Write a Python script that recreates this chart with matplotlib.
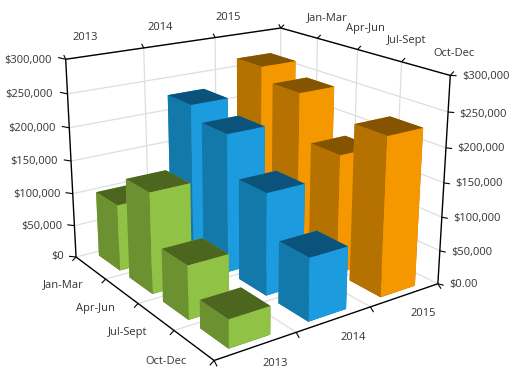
import numpy as np
import matplotlib
matplotlib.use("Agg")
import matplotlib.pyplot as plt
from mpl_toolkits.mplot3d import Axes3D  # noqa: F401

plt.rcParams['font.family'] = ['Open Sans', 'DejaVu Sans']

W, H = 518, 385

# ---- data -------------------------------------------------------------
years = ['2013', '2014', '2015']
quarters = ['Jan-Mar', 'Apr-Jun', 'Jul-Sept', 'Oct-Dec']
sales_2013 = [100000, 148000, 77000, 40000]
sales_2014 = [227000, 207000, 149000, 90000]
sales_2015 = [266000, 246000, 178000, 230000]
z_ticks = [0, 50000, 100000, 150000, 200000, 250000, 300000]
z_labels_left = ['$0', '$50,000', '$100,000', '$150,000', '$200,000', '$250,000', '$300,000']
z_labels_right = ['$0.00', '$50,000', '$100,000', '$150,000', '$200,000', '$250,000', '$300,000']

# colours per year: top, left side, front side
colours = {
    '2013': ('#4c6620', '#6c9130', '#8fc245'),
    '2014': ('#0b537a', '#1378aa', '#1c9cde'),
    '2015': ('#855400', '#b67200', '#f59800'),
}
TEXT = '#333333'
GRID = '#dedede'
ZMAX = 300000.0

# ---- camera calibration: axis-box reference points -> image pixels ------
# (x in year cells 0..3, y in quarter cells from the front 0..4, z in value)
calib = [
    (0, 0, 0, 214, 358), (3, 0, 0, 437, 283), (0, 4, 0, 76, 257),
    (0, 4, 1, 65, 59), (3, 4, 1, 281, 28), (3, 0, 1, 450, 75),
    (1, 4, 1, 143, 48), (2, 4, 1, 215, 37),
    (1, 0, 0, 297, 332), (2, 0, 0, 371, 307),
    (3, 3, 1, 317, 38), (3, 2, 1, 357, 50), (3, 1, 1, 402, 62),
    (0, 3, 0, 105, 280), (0, 2, 0, 137, 305), (0, 1, 0, 173, 332),
    (0, 4, 1/6, 75, 225), (0, 4, 2/6, 73, 193), (0, 4, 3/6, 72, 161),
    (0, 4, 4/6, 70, 128), (0, 4, 5/6, 68, 94),
    (3, 0, 1/6, 440, 251), (3, 0, 2/6, 442, 217), (3, 0, 3/6, 444, 183),
    (3, 0, 4/6, 447, 148), (3, 0, 5/6, 448, 113),
]
rows = []
for x, y, z, u, v in calib:
    X = [x / 3, y / 4, z, 1]
    u, v = u / 500, v / 500
    rows.append([*X, 0, 0, 0, 0, *[-u * c for c in X]])
    rows.append([0, 0, 0, 0, *X, *[-v * c for c in X]])
_, _, vt = np.linalg.svd(np.array(rows, dtype=float))
P = vt[-1].reshape(3, 4)
P = np.diag([500, 500, 1.0]) @ P @ np.diag([1 / 3, 1 / 4, 1 / ZMAX, 1])
if P[2, 3] < 0:
    P = -P

fig = plt.figure(figsize=(W / 100, H / 100), dpi=100, facecolor='white')
ax = fig.add_axes([0, 0, 1, 1], projection='3d', computed_zorder=False)
ax.set_axis_off()
ax.apply_aspect = lambda position=None: None


def get_proj():
    D = np.array([[1, 0, 0], [0, -1, H], [0, 0, 1.0]])
    T = ax.transData.inverted().get_affine().get_matrix()
    Q = T @ D @ P
    return np.vstack([Q[0], Q[1], [0, 0, 0, -1], Q[2]])


ax.get_proj = get_proj

nx, ny = len(years), len(quarters)

# ---- grid -------------------------------------------------------------
gk = dict(color=GRID, lw=0.9, zorder=1)
for zv in z_ticks[1:]:
    ax.plot([0, nx], [ny, ny], [zv, zv], **gk)
    ax.plot([nx, nx], [ny, 0], [zv, zv], **gk)
for i in range(1, nx + 1):
    ax.plot([i, i], [ny, ny], [0, ZMAX], **gk)
for j in range(1, ny):
    ax.plot([nx, nx], [j, j], [0, ZMAX], **gk)
for i in range(1, nx):
    ax.plot([i, i], [0, ny], [0, 0], **gk)
for j in range(1, ny):
    ax.plot([0, nx], [j, j], [0, 0], **gk)
ax.plot([0, nx], [ny, ny], [0, 0], **gk)
ax.plot([nx, nx], [0, ny], [0, 0], **gk)

# ---- axis lines and ticks ----------------------------------------------
ak = dict(color='black', lw=1.0, zorder=2, solid_capstyle='butt')
tk = dict(color='black', lw=0.8, zorder=2, solid_capstyle='butt')
ax.plot([0, nx], [0, 0], [0, 0], **ak)
ax.plot([0, 0], [0, ny], [0, 0], **ak)
ax.plot([0, 0], [ny, ny], [0, ZMAX], **ak)
ax.plot([nx, nx], [0, 0], [0, ZMAX], **ak)
ax.plot([0, nx], [ny, ny], [ZMAX, ZMAX], **ak)
ax.plot([nx, nx], [0, ny], [ZMAX, ZMAX], **ak)


def tick(p, d):
    ax.plot([p[0], p[0] + d[0]], [p[1], p[1] + d[1]], [p[2], p[2] + d[2]], **tk)


for i in range(nx + 1):
    tick((i, ny, ZMAX), (0, 0.06, 5000))
    tick((i, 0, 0), (0, -0.07, -5000))
for j in range(ny + 1):
    tick((nx, j, ZMAX), (0.05, 0, 4500))
    tick((0, j, 0), (-0.05, 0, -4500))
for zv in z_ticks:
    tick((0, ny, zv), (-0.09, 0, 4000))
    tick((nx, 0, zv), (0, -0.12, 2000))

# ---- bars (painted from the back corner to the front corner) -----------
series = {'2013': sales_2013, '2014': sales_2014, '2015': sales_2015}
bw_x, bw_y = 0.51, 0.70
order = 3
for i in range(nx - 1, -1, -1):
    yr = years[i]
    top, left, front = colours[yr]
    for q in range(ny):
        j = ny - 1 - q           # Jan-Mar at the back
        face = [top, top, front, front, left, left]
        ax.bar3d(i + (1 - bw_x) / 2, j + (1 - bw_y) / 2, 0, bw_x, bw_y,
                 series[yr][q], color=face, shade=False, linewidth=0,
                 zorder=order)
        order += 1

# ---- labels -------------------------------------------------------------
def label(px, py, s, ha='center'):
    fig.text(px / W, 1 - py / H, s, ha=ha, va='center', fontsize=8.0, color=TEXT)


left_pos = [(64, 257), (62, 226), (61, 195), (58, 162), (56, 129), (53, 95), (52, 60)]
right_pos = [(449, 284), (451, 252), (453, 218), (455, 184), (457, 149), (459, 114), (462, 77)]
for (px, py), s in zip(left_pos, z_labels_left):
    label(px, py, s, 'right')
for (px, py), s in zip(right_pos, z_labels_right):
    label(px, py, s, 'left')
for (px, py), s in zip([(85, 38), (160, 27), (228, 17)], years):
    label(px, py, s)
for (px, py), s in zip([(275, 363), (353, 337), (423, 313)], years):
    label(px, py, s)
for (px, py), s in zip([(327, 18), (365, 29), (407, 41), (454, 53)], quarters):
    label(px, py, s)
for (px, py), s in zip([(63, 285), (95, 308), (128, 333), (166, 361)], quarters):
    label(px, py, s)

fig.savefig('out.png', dpi=100, facecolor='white')
